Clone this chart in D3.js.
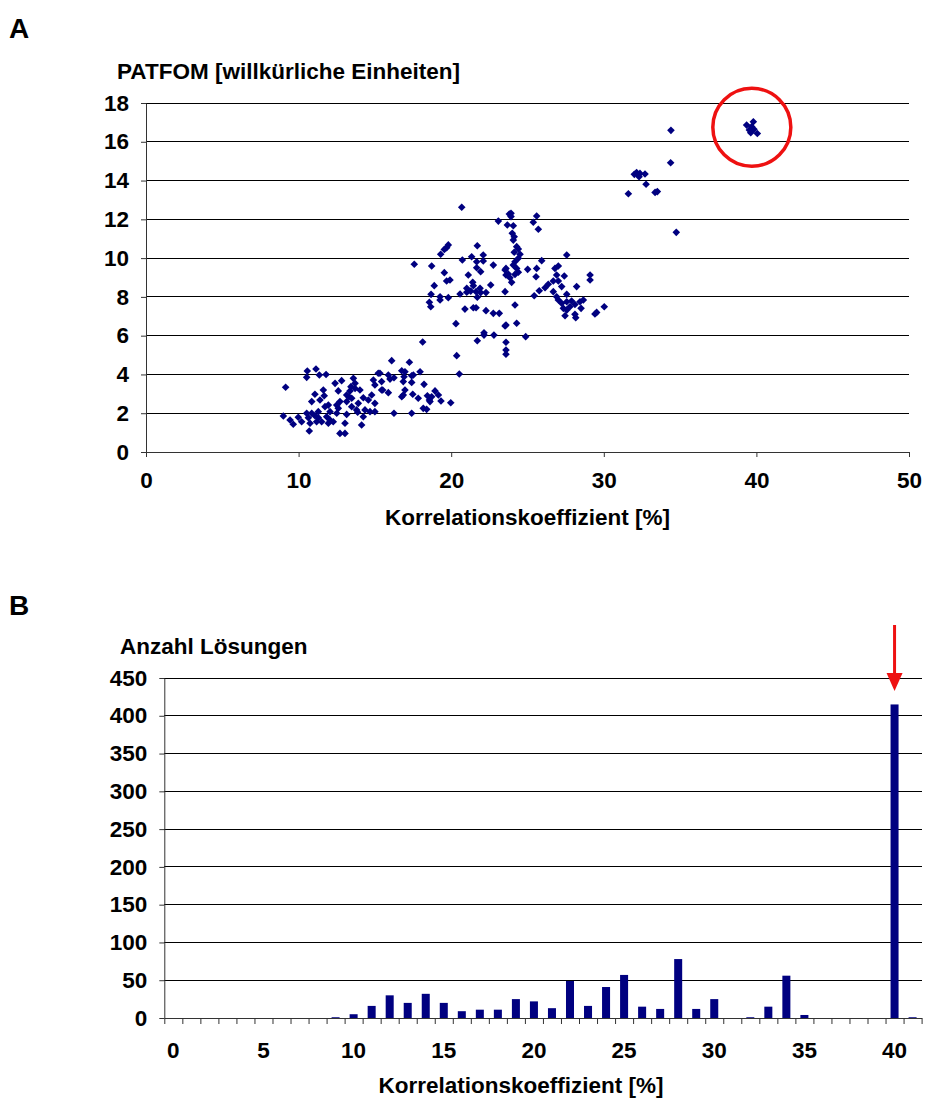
<!DOCTYPE html>
<html>
<head>
<meta charset="utf-8">
<script src="https://cdn.jsdelivr.net/npm/d3@7"></script>
<style>
  body { margin: 0; background: #fff; }
  svg text { font-family: "Liberation Sans", Arial, sans-serif; font-weight: bold; fill: #000; }
</style>
</head>
<body>
<svg id="chart" width="925" height="1100"></svg>
<script>
// Panel A: PATFOM score vs. correlation coefficient, one [x, y] pair per solution
const patfomPoints = [
  [9.15,3.34],[10.57,4.18],[10.53,3.85],[11.14,4.28],[11.36,3.97],[11.8,4.0],[15.22,4.06],[12.39,3.54],
  [12.82,3.68],[13.59,3.8],[13.7,3.54],[14.9,3.71],[15.0,3.46],[15.44,3.2],[11.62,3.2],[11.07,2.98],
  [11.68,2.9],[12.6,3.15],[13.37,3.15],[10.86,2.6],[13.3,2.85],[14.02,3.2],[14.24,2.8],[14.79,2.94],
  [15.0,2.51],[14.57,2.68],[11.73,2.34],[11.95,2.42],[12.5,2.42],[12.6,2.25],[13.15,2.6],[13.48,2.77],
  [13.8,2.17],[14.35,2.17],[14.68,2.08],[13.91,2.51],[9.0,1.86],[9.44,1.65],[9.65,1.43],[9.98,1.79],
  [10.2,1.56],[10.53,2.0],[10.64,1.77],[10.86,2.0],[11.07,1.87],[10.75,1.48],[11.18,1.56],[11.29,1.77],
  [11.51,1.56],[10.7,1.08],[11.84,1.82],[11.95,1.48],[12.06,1.65],[12.5,2.0],[13.04,1.48],[13.15,1.94],
  [12.71,0.96],[13.04,0.96],[13.87,2.05],[14.13,1.39],[14.24,1.82],[15.0,2.08],[11.29,2.08],[12.27,1.56],
  [13.15,2.94],[13.7,3.28],[13.43,3.37],[15.44,3.63],[13.48,2.34],[12.71,2.6],[12.06,2.08],[11.4,2.68],
  [16.1,4.71],[17.26,4.63],[15.33,4.06],[15.88,3.97],[15.99,3.76],[16.25,3.83],[16.76,4.19],[16.97,4.14],
  [16.91,3.88],[16.86,3.63],[17.41,3.93],[17.52,3.97],[17.96,4.14],[17.41,3.59],[18.22,3.49],[20.53,4.02],
  [15.51,3.2],[15.88,3.06],[16.97,3.2],[16.76,2.85],[16.86,2.94],[17.48,2.98],[17.84,2.77],[18.44,2.9],
  [18.57,2.68],[18.61,2.6],[18.94,3.15],[19.16,2.94],[19.33,2.63],[19.97,2.54],[18.17,2.25],[18.39,2.2],
  [16.25,2.0],[17.41,2.0],[18.72,2.85],
  [20.69,12.62],[23.09,11.91],[23.68,11.71],[23.81,12.27],[19.81,10.68],[19.7,10.54],[19.55,10.45],[19.31,10.2],
  [21.71,10.64],[17.58,9.68],[18.72,9.59],[20.73,9.9],[21.34,10.07],[21.67,9.81],[22.1,10.16],[22.1,9.85],
  [21.67,9.5],[21.93,9.3],[22.76,9.64],[23.59,9.47],[23.59,9.13],[19.55,9.25],[19.92,8.87],[19.7,8.82],
  [18.89,8.58],[21.12,9.13],[21.41,8.75],[21.45,8.58],[21.02,8.44],[21.02,8.24],[21.28,8.3],[21.63,8.27],
  [21.89,8.44],[21.93,8.22],[22.28,8.22],[22.59,8.61],[20.58,8.15],[18.68,8.13],[19.27,8.01],[19.27,7.84],
  [19.81,7.96],[21.71,7.98],[18.57,7.72],[18.66,7.49],[23.53,8.27],[21.45,7.44],[21.63,7.44],[20.9,7.37],
  [22.28,7.29],[22.76,7.15],[23.15,7.15],[23.53,6.5],[20.31,6.62],[22.15,6.15],[22.15,6.03],[22.8,6.03],
  [21.71,5.74],[18.13,5.67],[23.59,5.66],[23.59,5.26],[23.59,5.04],[20.36,4.97],[23.74,9.18],
  [23.92,12.31],[23.92,12.14],[25.6,12.17],[25.38,11.85],[25.71,11.49],[24.07,11.67],[24.0,11.28],[24.13,11.1],
  [24.07,10.93],[24.29,10.59],[24.4,10.47],[24.13,10.3],[24.51,10.2],[24.4,9.99],[25.93,9.87],[24.18,9.81],
  [24.07,9.64],[24.29,9.47],[23.53,9.39],[24.18,9.16],[24.4,9.27],[23.85,8.99],[23.96,8.75],[25.01,9.42],
  [25.6,9.47],[25.56,9.04],[27.57,10.16],[27.02,9.59],[26.8,9.47],[26.91,9.13],[27.41,9.08],[26.69,8.82],
  [27.02,8.82],[29.1,9.13],[29.1,8.87],[26.36,8.65],[26.15,8.47],[27.24,8.53],[28.22,8.53],[26.69,8.27],
  [25.77,8.32],[25.44,8.06],[26.91,8.01],[27.57,8.13],[27.02,7.84],[27.24,7.67],[27.57,7.75],[27.89,7.79],
  [27.35,7.41],[27.57,7.32],[27.78,7.49],[28.11,7.61],[28.44,7.75],[28.66,7.84],[28.51,7.41],[27.46,7.03],
  [28.11,7.1],[28.16,6.93],[29.42,7.12],[29.53,7.2],[30.03,7.49],[24.18,7.58],[24.29,6.64],[23.59,6.55],
  [24.88,5.95],
  [34.4,16.59],[34.38,14.92],[32.15,14.41],[32.0,14.32],[32.31,14.2],[32.7,14.34],[32.37,14.37],[32.77,13.81],
  [31.61,13.32],[33.36,13.39],[33.51,13.43],[34.75,11.33],
  [39.36,16.86],[39.8,17.03],[39.69,16.78],[39.54,16.61],[39.63,16.47],[40.06,16.43],[39.84,16.64]
];
// best solution cluster that gets circled
const bestCluster = [39.7, 16.75];

// Panel B: number of solutions per 1 % correlation bin
const solutionBins = d3.range(0, 42);
const solutionCounts = [
  0, 0, 0, 0, 0, 0, 0, 0, 0, 1,
  5, 16, 30, 20, 32, 20, 9, 11, 11, 25,
  22, 13, 49, 16, 41, 57, 15, 12, 78, 12,
  25, 0, 1, 15, 56, 4, 0, 0, 0, 0,
  415, 1
];
const highlightBin = 40;

const scatterXTicks = [0, 10, 20, 30, 40, 50];
const scatterYTicks = [0, 2, 4, 6, 8, 10, 12, 14, 16, 18];
const histXTicks = [0, 5, 10, 15, 20, 25, 30, 35, 40];
const histYTicks = [0, 50, 100, 150, 200, 250, 300, 350, 400, 450];

const NAVY = "#000080";
const FS = 22.5;
const svg = d3.select("#chart");

function styleAxis(g) {
  g.selectAll("text").style("font-size", FS + "px").style("font-weight", "bold")
    .style("font-family", '"Liberation Sans", Arial, sans-serif').attr("fill", "#000");
  g.selectAll("line").attr("stroke", "#333");
  g.select(".domain").attr("stroke", "#333");
}

// ---------- Panel A ----------
const A = { left: 146, right: 909, top: 103, bottom: 452 };
const xA = d3.scaleLinear().domain([0, 50]).range([A.left, A.right]);
const yA = d3.scaleLinear().domain([0, 18]).range([A.bottom, A.top]);

svg.append("text").attr("x", 9).attr("y", 38).style("font-size", "28px").text("A");
svg.append("text").attr("x", 117).attr("y", 79).style("font-size", FS + "px")
  .text("PATFOM [willkürliche Einheiten]");

svg.append("g").selectAll("line").data(scatterYTicks.filter(d => d > 0)).join("line")
  .attr("x1", A.left).attr("x2", A.right)
  .attr("y1", d => yA(d)).attr("y2", d => yA(d))
  .attr("stroke", "#000").attr("stroke-width", 1).attr("shape-rendering", "crispEdges");

svg.append("g").attr("transform", `translate(${A.left},0)`)
  .call(d3.axisLeft(yA).tickValues(scatterYTicks).tickSize(5).tickPadding(12).tickSizeOuter(0))
  .call(styleAxis);
svg.append("g").attr("transform", `translate(0,${A.bottom})`)
  .call(d3.axisBottom(xA).tickValues(scatterXTicks).tickSize(5).tickPadding(15).tickSizeOuter(0))
  .call(styleAxis);

svg.append("text").attr("x", (A.left + A.right) / 2).attr("y", 525)
  .attr("text-anchor", "middle").style("font-size", FS + "px").text("Korrelationskoeffizient [%]");

const diamond = d3.symbol(d3.symbolSquare, 29);
svg.append("g").selectAll("path").data(patfomPoints).join("path")
  .attr("d", diamond)
  .attr("transform", d => `translate(${xA(d[0])},${yA(d[1])}) rotate(45)`)
  .attr("fill", NAVY);

svg.append("circle")
  .attr("cx", xA(bestCluster[0])).attr("cy", yA(bestCluster[1])).attr("r", 39)
  .attr("fill", "none").attr("stroke", "#ee1111").attr("stroke-width", 3.5);

// ---------- Panel B ----------
const B = { left: 164.3, right: 921.6, top: 678, bottom: 1018 };
const xB = d3.scaleBand().domain(solutionBins).range([B.left, B.right]).paddingInner(0).paddingOuter(0);
const xEdge = d3.scaleLinear().domain([0, solutionBins.length]).range([B.left, B.right]);
const yB = d3.scaleLinear().domain([0, 450]).range([B.bottom, B.top]);
const barW = xB.bandwidth() / 2.25;

svg.append("text").attr("x", 9).attr("y", 615).style("font-size", "28px").text("B");
svg.append("text").attr("x", 120).attr("y", 654).style("font-size", FS + "px").text("Anzahl Lösungen");

svg.append("g").selectAll("line").data(histYTicks.filter(d => d > 0)).join("line")
  .attr("x1", B.left).attr("x2", B.right)
  .attr("y1", d => yB(d)).attr("y2", d => yB(d))
  .attr("stroke", "#000").attr("stroke-width", 1).attr("shape-rendering", "crispEdges");

svg.append("g").selectAll("rect").data(solutionBins.filter(b => solutionCounts[b] > 0)).join("rect")
  .attr("x", b => xB(b) + (xB.bandwidth() - barW) / 2)
  .attr("width", barW)
  .attr("y", b => yB(solutionCounts[b]))
  .attr("height", b => B.bottom - yB(solutionCounts[b]))
  .attr("fill", NAVY);

svg.append("g").attr("transform", `translate(${B.left},0)`)
  .call(d3.axisLeft(yB).tickValues(histYTicks).tickSize(5).tickPadding(12).tickSizeOuter(0))
  .call(styleAxis);
svg.append("g").attr("transform", `translate(0,${B.bottom})`)
  .call(d3.axisBottom(xEdge).tickValues(d3.range(0, solutionBins.length + 1)).tickSize(6).tickFormat("").tickSizeOuter(0))
  .call(styleAxis);
svg.append("g").attr("transform", `translate(0,${B.bottom})`)
  .call(d3.axisBottom(xB).tickValues(histXTicks).tickSize(0).tickPadding(24))
  .call(g => g.select(".domain").remove())
  .call(styleAxis);

svg.append("text").attr("x", 521).attr("y", 1093)
  .attr("text-anchor", "middle").style("font-size", FS + "px").text("Korrelationskoeffizient [%]");

// arrow pointing at the dominant bin
const ax = xB(highlightBin) + xB.bandwidth() / 2;
svg.append("line").attr("x1", ax).attr("x2", ax).attr("y1", 625).attr("y2", 676)
  .attr("stroke", "#ee1111").attr("stroke-width", 3);
svg.append("path")
  .attr("d", `M${ax - 8},${673} L${ax + 8},${673} L${ax},${691} Z`)
  .attr("fill", "#ee1111");
</script>
</body>
</html>
